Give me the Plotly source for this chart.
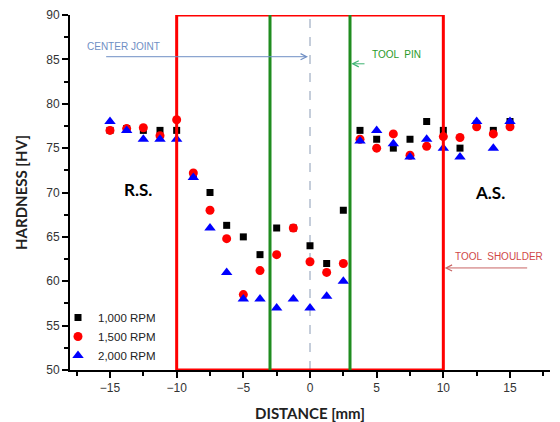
import plotly.graph_objects as go

distance = [-15, -13.75, -12.5, -11.25, -10, -8.75, -7.5, -6.25, -5, -3.75, -2.5, -1.25, 0,
            1.25, 2.5, 3.75, 5, 6.25, 7.5, 8.75, 10, 11.25, 12.5, 13.75, 15]
rpm_1000 = [77, 77.2, 77, 77, 77, 72, 70, 66.3, 65, 63, 66, 66, 64,
            62, 68, 77, 76, 75, 76, 78, 77, 75, 77.7, 77, 78]
rpm_1500 = [77, 77.2, 77.3, 76.4, 78.2, 72.2, 68, 64.8, 58.5, 61.2, 63, 66, 62.2,
            61, 62, 76, 75, 76.6, 74.2, 75.2, 76.3, 76.2, 77.4, 76.6, 77.4]
rpm_2000 = [78, 77, 76, 76, 76, 71.7, 66, 61, 58, 58, 57, 58, 57,
            58.3, 60, 75.8, 77, 75.5, 74, 76, 75, 74, 78, 75, 78]
series_names = ["1,000 RPM", "1,500 RPM", "2,000 RPM"]

fig = go.Figure()
fig.add_trace(go.Scatter(x=distance, y=rpm_1000, mode="markers", name=series_names[0],
                         marker=dict(symbol="square", size=7, color="black")))
fig.add_trace(go.Scatter(x=distance, y=rpm_1500, mode="markers", name=series_names[1],
                         marker=dict(symbol="circle", size=9, color="#ff0000")))
fig.add_trace(go.Scatter(x=distance, y=rpm_2000, mode="markers", name=series_names[2],
                         marker=dict(symbol="triangle-up", size=10, color="#0000ff")))

# Tool shoulder box, tool pin lines, center joint
fig.add_shape(type="rect", x0=-10, x1=10, y0=50, y1=90, xref="x", yref="y",
              line=dict(color="#ff0000", width=3), layer="above")
for xp in [-3, 3]:
    fig.add_shape(type="line", x0=xp, x1=xp, y0=50, y1=90, xref="x", yref="y",
                  line=dict(color="#1f8c1f", width=3), layer="above")
fig.add_shape(type="line", x0=0, x1=0, y0=50, y1=90, xref="x", yref="y",
              line=dict(color="#8a9bb5", width=1, dash="dash"), layer="below")

ann_font = "Liberation Sans"
fig.add_annotation(x=-0.15, y=85.3, ax=-15.4, ay=85.3, xref="x", yref="y", axref="x", ayref="y",
                   showarrow=True, arrowhead=5, arrowsize=1.2, arrowwidth=1, arrowcolor="#6f8fc4", text="")
fig.add_annotation(x=-16.9, y=86.5, xref="x", yref="y", text="CENTER JOINT", showarrow=False,
                   xanchor="left", font=dict(family=ann_font, size=10, color="#6f8fc4"))
fig.add_annotation(x=3.1, y=84.5, ax=4.2, ay=84.5, xref="x", yref="y", axref="x", ayref="y",
                   showarrow=True, arrowhead=5, arrowsize=1.2, arrowwidth=1, arrowcolor="#3cb371", text="")
fig.add_annotation(x=4.5, y=85.5, xref="x", yref="y", text="TOOL  PIN", showarrow=False,
                   xanchor="left", font=dict(family=ann_font, size=10, color="#2a9a2a"))
fig.add_annotation(x=10.1, y=61.5, ax=16.4, ay=61.5, xref="x", yref="y", axref="x", ayref="y",
                   showarrow=True, arrowhead=5, arrowsize=1.2, arrowwidth=1, arrowcolor="#c86464", text="")
fig.add_annotation(x=10.7, y=62.8, xref="x", yref="y", text="TOOL  SHOULDER", showarrow=False,
                   xanchor="left", font=dict(family=ann_font, size=10, color="#d04848"))
fig.add_annotation(x=-12.9, y=70.3, xref="x", yref="y", text="<b>R.S.</b>", showarrow=False,
                   font=dict(family="Lato", size=17, color="black"))
fig.add_annotation(x=13.5, y=70.0, xref="x", yref="y", text="<b>A.S.</b>", showarrow=False,
                   font=dict(family="Lato", size=17, color="black"))

# The page body has an 8px margin, so the figure is sized/offset to compensate.
fig.update_layout(
    width=552, height=414,
    margin=dict(l=62, r=10, t=7, b=52),
    plot_bgcolor="white", paper_bgcolor="white",
    showlegend=True,
    legend=dict(x=-0.025, y=0.0, xanchor="left", yanchor="bottom", bgcolor="rgba(0,0,0,0)",
                font=dict(family=ann_font, size=11.5, color="#222"), tracegroupgap=0),
    font=dict(family=ann_font, size=12, color="#333"),
)
fig.update_xaxes(range=[-18, 18], tickmode="array", tickvals=[-15, -10, -5, 0, 5, 10, 15],
                 automargin=False,
                 ticks="outside", ticklen=6, tickwidth=1.5, tickcolor="black",
                 minor=dict(tickvals=[-17.5, -12.5, -7.5, -2.5, 2.5, 7.5, 12.5, 17.5],
                            ticks="outside", ticklen=4, tickcolor="black"),
                 showline=True, linecolor="black", linewidth=2, showgrid=False, zeroline=False,
                 title=dict(text="<b>DISTANCE [mm]</b>", font=dict(family="Lato", size=15, color="#222")))
fig.update_yaxes(range=[50, 90], tickmode="array", tickvals=[50, 55, 60, 65, 70, 75, 80, 85, 90],
                 automargin=False,
                 ticks="outside", ticklen=6, tickwidth=1.5, tickcolor="black",
                 minor=dict(tickvals=[52.5, 57.5, 62.5, 67.5, 72.5, 77.5, 82.5, 87.5],
                            ticks="outside", ticklen=4, tickcolor="black"),
                 showline=True, linecolor="black", linewidth=2, showgrid=False, zeroline=False,
                 title=dict(text="<b>HARDNESS [HV]</b>", font=dict(family="Lato", size=15, color="#222")))

fig.write_html("out.html")
